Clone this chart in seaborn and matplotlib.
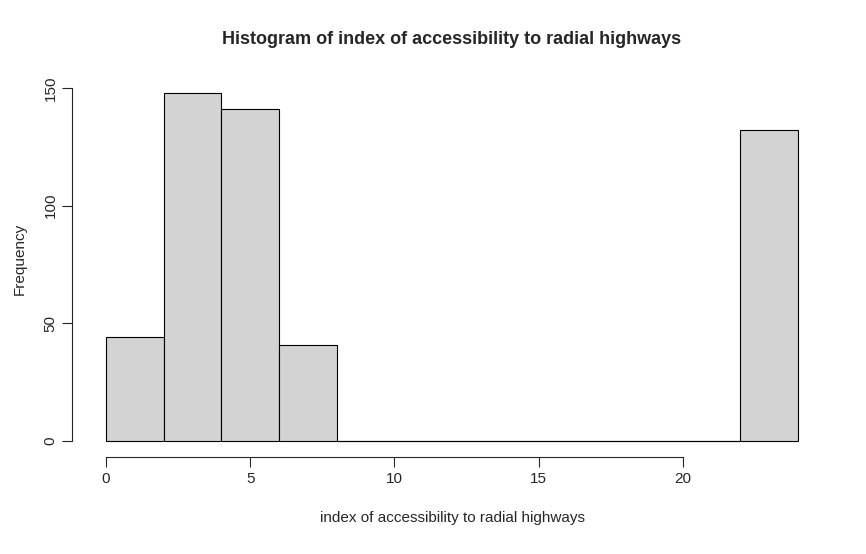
import matplotlib
matplotlib.use("Agg")
import matplotlib.pyplot as plt
import seaborn as sns
import numpy as np

edges = [0,2,4,6,8,10,12,14,16,18,20,22,24]
counts = [44,148,141,41,0,0,0,0,0,0,0,132]
mids = [(edges[i]+edges[i+1])/2 for i in range(len(counts))]

sns.set_style("white")
plt.rcParams['font.family'] = ['Liberation Sans', 'DejaVu Sans']
W, H = 866, 554
fig = plt.figure(figsize=(W/100, H/100), dpi=100)
ax = fig.add_axes([72/W, 1-457/H, (832-72)/W, (457-60)/H])
sns.histplot(x=mids, weights=counts, bins=edges, color="#d3d3d3", edgecolor="black",
             linewidth=0.8, alpha=1, ax=ax)
pxu = (798-106)/24
ax.set_xlim((72-106)/pxu, (832-106)/pxu)
pyu = (441-88)/150
ax.set_ylim((441-457)/pyu, (441-60)/pyu)
ax.plot([8,22],[0,0],color="black",lw=0.8)
for s in ["top","right"]:
    ax.spines[s].set_visible(False)
ax.spines["left"].set_bounds(0,150)
ax.spines["bottom"].set_bounds(0,20)
ax.set_xticks([0,5,10,15,20])
ax.set_yticks([0,50,100,150])
ax.tick_params(direction="out", length=7, width=0.8, labelsize=11, left=True, bottom=True)
for t in ax.get_yticklabels():
    t.set_rotation(90); t.set_va("center")
ax.set_xlabel("index of accessibility to radial highways", fontsize=11, labelpad=18)
ax.set_ylabel("Frequency", fontsize=11, labelpad=12)
fig.suptitle("Histogram of index of accessibility to radial highways", fontsize=13,
             fontweight="bold", x=(72+832)/2/W, y=1-40/H, va="center")
fig.savefig("out.png", dpi=100, facecolor="white")
